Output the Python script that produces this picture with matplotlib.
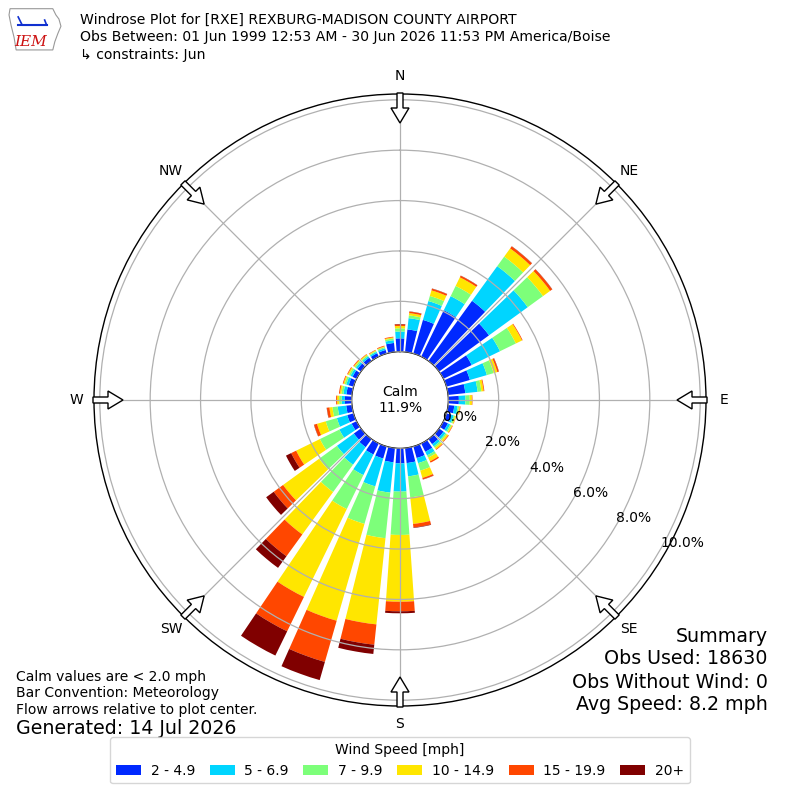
import numpy as np
import matplotlib
matplotlib.use("Agg")
import matplotlib.pyplot as plt
from matplotlib.patches import FancyArrow, Polygon


# percent of observations per 10 degree direction bin, one list per speed class
directions = np.arange(0, 360, 10)
speed_labels = ["2 - 4.9", "5 - 6.9", "7 - 9.9", "10 - 14.9", "15 - 19.9", "20+"]

spd_2_5 = [0.53, 0.90, 1.39, 2.05, 2.95, 2.45, 1.25, 0.97, 0.69, 0.42, 0.25, 0.20,
           0.20, 0.22, 0.25, 0.37, 0.48, 0.60, 0.60, 0.57, 0.50, 0.49, 0.40, 0.35,
           0.22, 0.26, 0.23, 0.27, 0.22, 0.20, 0.18, 0.17, 0.16, 0.15, 0.15, 0.36]
spd_5_7 = [0.27, 0.45, 0.78, 0.62, 1.70, 1.90, 1.25, 0.70, 0.49, 0.26, 0.13, 0.10,
           0.10, 0.10, 0.11, 0.16, 0.21, 0.53, 1.12, 1.21, 1.15, 0.91, 0.86, 0.83,
           0.54, 0.43, 0.34, 0.13, 0.12, 0.10, 0.09, 0.08, 0.07, 0.06, 0.07, 0.11]
spd_7_10 = [0.13, 0.11, 0.21, 0.45, 0.47, 0.75, 0.70, 0.28, 0.15, 0.17, 0.06, 0.06,
            0.06, 0.06, 0.07, 0.10, 0.31, 0.84, 1.72, 1.82, 1.55, 1.50, 1.34, 0.87,
            0.86, 0.46, 0.21, 0.10, 0.08, 0.07, 0.07, 0.06, 0.05, 0.04, 0.05, 0.07]
spd_10_15 = [0.09, 0.09, 0.23, 0.38, 0.40, 0.35, 0.27, 0.15, 0.09, 0.09, 0.04, 0.04,
             0.04, 0.07, 0.07, 0.16, 0.30, 1.06, 2.65, 3.44, 4.00, 3.88, 2.08, 1.77,
             1.05, 0.36, 0.12, 0.08, 0.06, 0.05, 0.05, 0.04, 0.04, 0.03, 0.03, 0.04]
spd_15_20 = [0.06, 0.06, 0.07, 0.07, 0.10, 0.10, 0.03, 0.06, 0.03, 0.02, 0.02, 0.01,
             0.02, 0.03, 0.03, 0.06, 0.06, 0.14, 0.38, 0.81, 1.70, 1.52, 1.07, 0.46,
             0.22, 0.12, 0.10, 0.04, 0.04, 0.03, 0.03, 0.03, 0.02, 0.02, 0.03, 0.03]
spd_20p = [0.02, 0.01, 0.01, 0.01, 0.01, 0.01, 0.00, 0.01, 0.00, 0.00, 0.00, 0.00,
           0.00, 0.00, 0.00, 0.00, 0.01, 0.02, 0.08, 0.37, 0.75, 1.07, 0.57, 0.37,
           0.23, 0.01, 0.01, 0.00, 0.00, 0.00, 0.00, 0.00, 0.00, 0.00, 0.00, 0.00]

calm_pct = 11.9
ring_values = [0, 2, 4, 6, 8, 10]
compass_labels = ["N", "NE", "E", "SE", "S", "SW", "W", "NW"]
compass_angles = np.arange(0, 360, 45)

title_lines = [
    "Windrose Plot for [RXE] REXBURG-MADISON COUNTY AIRPORT",
    "Obs Between: 01 Jun 1999 12:53 AM - 30 Jun 2026 11:53 PM America/Boise",
    "\u21b3 constraints: Jun",
]
note_lines = ["Calm values are < 2.0 mph", "Bar Convention: Meteorology",
              "Flow arrows relative to plot center."]
summary_lines = ["Summary", "Obs Used: 18630", "Obs Without Wind: 0", "Avg Speed: 8.2 mph"]

series = [spd_2_5, spd_5_7, spd_7_10, spd_10_15, spd_15_20, spd_20p]
colors = plt.cm.jet(np.linspace(0, 1, 7))[1:]

fig = plt.figure(figsize=(8, 8), dpi=100)
ax = fig.add_axes([0.1175, 0.1175, 0.765, 0.765], projection="polar")
ax.set_theta_zero_location("N")
ax.set_theta_direction(-1)

theta = np.radians(directions)
bottom = np.zeros(len(directions))
handles = []
for vals, c in zip(series, colors):
    vals = np.array(vals)
    h = ax.bar(theta, vals, width=np.radians(8), bottom=bottom, color=c,
               edgecolor="none", zorder=2)
    handles.append(h)
    bottom += vals

ax.set_rorigin(-1.917)
ax.set_ylim(0, 10.23)
ax.set_xticks(np.radians(compass_angles))
ax.set_xticklabels([])
ax.set_yticks(ring_values)
ax.set_yticklabels([])
ax.grid(True, color="#b0b0b0", lw=0.9)
ax.set_axisbelow(False)
ax.spines["polar"].set_linewidth(1.0)

for v in ring_values:
    ax.text(np.radians(120), v, f"{v:.1f}%", ha="left", va="bottom", fontsize=10, zorder=6)

fig.text(0.5, 0.5, f"Calm\n{calm_pct:.1f}%", ha="center", va="center", fontsize=10,
         linespacing=1.1)

# flow arrows and compass labels
r_tail, r_tip, r_lab = 307 / 800, 277 / 800, 324 / 800
for ang, lab in zip(compass_angles, compass_labels):
    s, c = np.sin(np.radians(ang)), np.cos(np.radians(ang))
    arr = FancyArrow(0.5 + r_tail * s, 0.5 + r_tail * c,
                     -(r_tail - r_tip) * s, -(r_tail - r_tip) * c,
                     width=6 / 800, head_width=18 / 800, head_length=15 / 800,
                     length_includes_head=True, fc="white", ec="black", lw=1,
                     transform=fig.transFigure, zorder=10)
    fig.add_artist(arr)
    fig.text(0.5 + r_lab * s, 0.5 + r_lab * c, lab, ha="center", va="center", fontsize=10)

for i, line in enumerate(title_lines):
    fig.text(80 / 800, 1 - (20 + 17.5 * i) / 800, line, va="center", fontsize=10.1)

for i, line in enumerate(note_lines):
    fig.text(16 / 800, 1 - (677 + 16.5 * i) / 800, line, va="center", fontsize=10)
fig.text(16 / 800, 1 - 729 / 800, "Generated: 14 Jul 2026", va="center", fontsize=13.7)

for i, line in enumerate(summary_lines):
    fig.text(768 / 800, 1 - (636 + 23 * i) / 800, line, ha="right", va="center",
             fontsize=13.7)

fig.legend(handles, speed_labels, loc="lower center", bbox_to_anchor=(0.5, 0.012),
           ncol=6, title="Wind Speed [mph]", fontsize=10, title_fontsize=10,
           handlelength=1.8, handletextpad=0.7, columnspacing=1.05)

# small IEM logo
logo = fig.add_axes([0.01, 0.935, 0.07, 0.058])
logo.set_xlim(0, 55)
logo.set_ylim(0, 45)
logo.axis("off")
iowa = [(2, 42), (44, 42), (47, 36), (50, 32), (52, 25), (49, 18), (46, 10),
        (44, 2), (8, 2), (6, 14), (3, 26), (1, 36)]
logo.add_patch(Polygon(iowa, closed=True, fc="white", ec="#999999", lw=0.8))
logo.plot([10, 38], [26, 26], color="#1030d0", lw=1.5)
logo.plot([10, 14, 38, 36], [34, 26, 26, 31], color="#1030d0", lw=1.2)
logo.text(22, 10, "IEM", color="#cc1111", fontsize=11, fontstyle="italic",
          family="serif", ha="center", va="center")

fig.savefig("out.png", dpi=100)
